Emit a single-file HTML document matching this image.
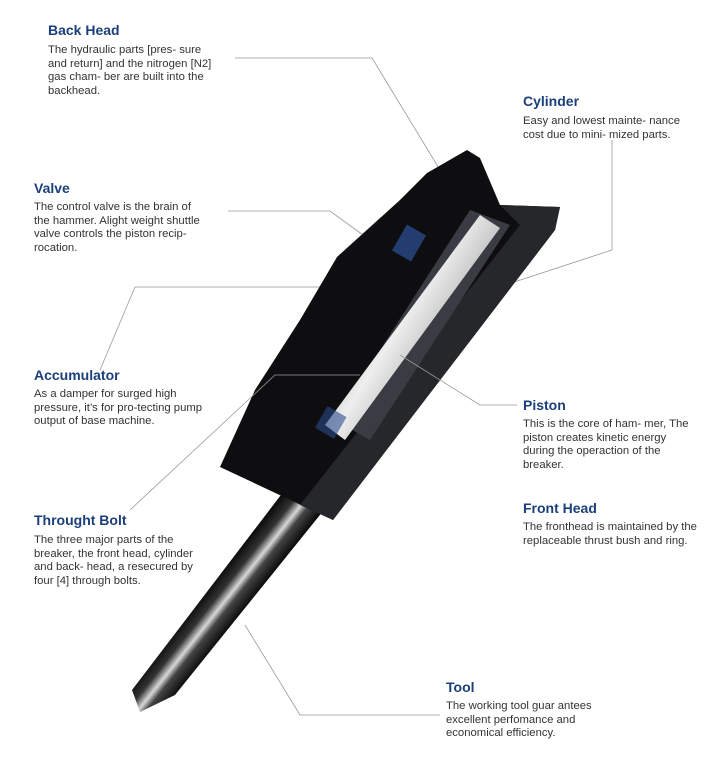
<!DOCTYPE html>
<html><head><meta charset="utf-8"><style>
body{margin:0;background:#fff;}
#c{position:relative;width:712px;height:773px;overflow:hidden;font-family:"Liberation Sans",sans-serif;}
.t{position:absolute;color:#1b3f7a;font-weight:bold;font-size:14px;}
.b{position:absolute;color:#333;font-size:11.3px;line-height:13.6px;}
svg{position:absolute;left:0;top:0;}
</style></head><body><div id="c">
<svg width="712" height="773">
<defs>
<linearGradient id="rod" gradientUnits="userSpaceOnUse" x1="218" y1="575" x2="252" y2="602">
<stop offset="0" stop-color="#0a0a0a"/><stop offset="0.3" stop-color="#333"/><stop offset="0.5" stop-color="#d8d8d8"/><stop offset="0.65" stop-color="#444"/><stop offset="1" stop-color="#050505"/></linearGradient>
<linearGradient id="pis" x1="0" y1="0" x2="1" y2="0.8">
<stop offset="0" stop-color="#555"/><stop offset="0.5" stop-color="#eee"/><stop offset="1" stop-color="#666"/></linearGradient>
</defs>
<g stroke="#999" stroke-width="0.8" fill="none">
<polyline points="235,58 372,58 440,170"/>
<polyline points="612,140 612,250 505,285"/>
<polyline points="228,211 330,211 370,240"/>
<polyline points="100,370 135,287 357,287"/>
</g>
<path d="M300,470 L340,490 L175,695 L140,712 L132,690 Z" fill="url(#rod)"/>
<polygon points="427,173 467,150 480,158 500,205 560,207 555,230 333,520 220,467 255,390 300,320 337,257 400,200" fill="#0e0e10"/>
<polygon points="500,205 560,207 555,230 333,520 300,505 520,225" fill="#26272b"/>
<polygon points="470,210 510,225 370,440 335,420" fill="#3a3c44"/>
<path d="M480,215 L500,228 L345,440 L325,425 Z" fill="url(#pis)"/>
<rect x="398" y="228" width="22" height="30" fill="#2a4a8a" transform="rotate(30 409 243)" opacity="0.8"/>
<rect x="320" y="410" width="22" height="25" fill="#2a4a8a" transform="rotate(30 331 422)" opacity="0.6"/>
<g stroke="#999" stroke-width="0.8" fill="none">
<polyline points="400,355 480,405 517,405"/>
<polyline points="130,510 275,375 360,375"/>
<polyline points="245,625 300,715 440,715"/>
</g>
</svg>
<div class="t" style="left:48px;top:22px">Back Head</div>
<div class="b" style="left:48px;top:44px">The hydraulic parts [pres- sure<br>and return] and the nitrogen [N2]<br>gas cham- ber are built into the<br>backhead.</div>
<div class="t" style="left:523px;top:93px">Cylinder</div>
<div class="b" style="left:523px;top:115px">Easy and lowest mainte- nance<br>cost due to mini- mized parts.</div>
<div class="t" style="left:34px;top:180px">Valve</div>
<div class="b" style="left:34px;top:201px">The control valve is the brain of<br>the hammer. Alight weight shuttle<br>valve controls the piston recip-<br>rocation.</div>
<div class="t" style="left:34px;top:367px">Accumulator</div>
<div class="b" style="left:34px;top:388px">As a damper for surged high<br>pressure, it’s for pro-tecting pump<br>output of base machine.</div>
<div class="t" style="left:523px;top:397px">Piston</div>
<div class="b" style="left:523px;top:418px">This is the core of ham- mer, The<br>piston creates kinetic energy<br>during the operaction of the<br>breaker.</div>
<div class="t" style="left:523px;top:500px">Front Head</div>
<div class="b" style="left:523px;top:521px">The fronthead is maintained by the<br>replaceable thrust bush and ring.</div>
<div class="t" style="left:34px;top:512px">Throught Bolt</div>
<div class="b" style="left:34px;top:534px">The three major parts of the<br>breaker, the front head, cylinder<br>and back- head, a resecured by<br>four [4] through bolts.</div>
<div class="t" style="left:446px;top:679px">Tool</div>
<div class="b" style="left:446px;top:700px">The working tool guar antees<br>excellent perfomance and<br>economical efficiency.</div>
</div></body></html>
